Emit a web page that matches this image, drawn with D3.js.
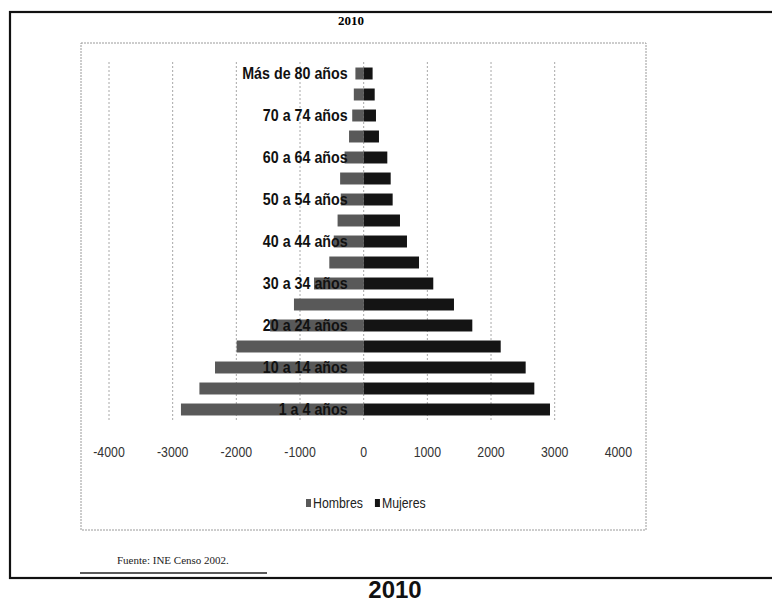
<!DOCTYPE html>
<html>
<head>
<meta charset="utf-8">
<script src="https://cdn.jsdelivr.net/npm/d3@7"></script>
<style>
  body { margin: 0; background: #fff; }
</style>
</head>
<body>
<div id="chart"></div>
<script>
// Grupos de edad (de abajo hacia arriba)
const grupos = [
  "1 a 4 años", "5 a 9 años", "10 a 14 años", "15 a 19 años", "20 a 24 años",
  "25 a 29 años", "30 a 34 años", "35 a 39 años", "40 a 44 años", "45 a 49 años",
  "50 a 54 años", "55 a 59 años", "60 a 64 años", "65 a 69 años", "70 a 74 años",
  "75 a 79 años", "Más de 80 años"
];

// Población por sexo
const hombres = [2870, 2580, 2335, 1995, 1470, 1095, 780, 540, 470, 410, 360, 370, 300, 230, 180, 155, 130];
const mujeres = [2926, 2680, 2544, 2152, 1706, 1418, 1093, 869, 680, 570, 455, 424, 371, 240, 193, 173, 140];

const ticksX = [-4000, -3000, -2000, -1000, 0, 1000, 2000, 3000, 4000];
const gridX = [-4000, -3000, -2000, -1000, 0, 1000, 2000, 3000];
const series = ["Hombres", "Mujeres"];
const colores = { Hombres: "#595959", Mujeres: "#141414" };

const width = 772;
const height = 604;
const fuenteSans = "'Liberation Sans', Arial, sans-serif";

const svg = d3.select("#chart")
  .append("svg")
  .attr("width", width)
  .attr("height", height)
  .style("background", "white");

// Marco exterior (se sale por la derecha)
svg.append("rect")
  .attr("x", 10).attr("y", 12)
  .attr("width", 800).attr("height", 566)
  .attr("fill", "none")
  .attr("stroke", "#111")
  .attr("stroke-width", 2.2);

// Título pequeño
svg.append("text")
  .attr("x", 351).attr("y", 25)
  .attr("text-anchor", "middle")
  .style("font-family", "'Liberation Serif', serif")
  .style("font-weight", "bold")
  .style("font-size", "13px")
  .text("2010");

// Marco del gráfico
svg.append("rect")
  .attr("x", 81).attr("y", 43)
  .attr("width", 565).attr("height", 487)
  .attr("fill", "none")
  .attr("stroke", "#9a9a9a")
  .attr("stroke-width", 1)
  .attr("stroke-dasharray", "2,1");

const x = d3.scaleLinear()
  .domain([-4000, 3000])
  .range([109, 554.7]);

const y = d3.scaleBand()
  .domain(grupos)
  .range([420, 63])
  .paddingInner(0.43)
  .paddingOuter(0.215);

// Líneas de división verticales
svg.append("g")
  .selectAll("line")
  .data(gridX)
  .join("line")
  .attr("x1", d => x(d)).attr("x2", d => x(d))
  .attr("y1", 62).attr("y2", 422)
  .attr("stroke", "#a8a8a8")
  .attr("stroke-width", 1)
  .attr("stroke-dasharray", "2,2");

const datos = grupos.map((g, i) => ({ grupo: g, Hombres: hombres[i], Mujeres: mujeres[i] }));

// Barras de hombres (a la izquierda)
svg.append("g")
  .selectAll("rect")
  .data(datos)
  .join("rect")
  .attr("x", d => x(-d.Hombres))
  .attr("y", d => y(d.grupo))
  .attr("width", d => x(0) - x(-d.Hombres))
  .attr("height", y.bandwidth())
  .attr("fill", colores.Hombres);

// Barras de mujeres (a la derecha)
svg.append("g")
  .selectAll("rect")
  .data(datos)
  .join("rect")
  .attr("x", x(0))
  .attr("y", d => y(d.grupo))
  .attr("width", d => x(d.Mujeres) - x(0))
  .attr("height", y.bandwidth())
  .attr("fill", colores.Mujeres);

// Etiquetas de grupos (una sí, una no), letra estrecha
const escalaEtiq = 0.84;
const ejeY = svg.append("g")
  .attr("transform", `translate(${x(0)},0)`)
  .call(d3.axisLeft(y)
    .tickValues(grupos.filter((g, i) => i % 2 === 0))
    .tickSize(0)
    .tickPadding(16));
ejeY.select(".domain").remove();
ejeY.selectAll("text")
  .attr("x", -16 / escalaEtiq)
  .attr("transform", `scale(${escalaEtiq},1)`)
  .style("font-family", fuenteSans)
  .style("font-weight", "bold")
  .style("font-size", "17px")
  .attr("fill", "#111");

// Eje X
const escalaNum = 0.88;
const ejeX = svg.append("g")
  .attr("transform", "translate(0,444)")
  .call(d3.axisBottom(x)
    .tickValues(ticksX)
    .tickSize(0)
    .tickPadding(3)
    .tickFormat(d => String(d)));
ejeX.select(".domain").remove();
ejeX.selectAll("text")
  .attr("transform", `scale(${escalaNum},1)`)
  .style("font-family", fuenteSans)
  .style("font-size", "14px")
  .attr("fill", "#333");
// compensar la escala horizontal en cada marca
ejeX.selectAll(".tick")
  .attr("transform", d => `translate(${x(d)},0)`);

// Leyenda
const leyenda = svg.append("g");
let lx = 306;
series.forEach(s => {
  leyenda.append("rect")
    .attr("x", lx).attr("y", 499)
    .attr("width", 5).attr("height", 8)
    .attr("fill", colores[s]);
  const t = leyenda.append("text")
    .attr("x", (lx + 7) / escalaNum).attr("y", 508)
    .attr("transform", `scale(${escalaNum},1)`)
    .style("font-family", fuenteSans)
    .style("font-size", "14px")
    .attr("fill", "#222")
    .text(s);
  lx += 7 + t.node().getComputedTextLength() * escalaNum + 12;
});

// Fuente
svg.append("text")
  .attr("x", 117).attr("y", 564)
  .style("font-family", "'Liberation Serif', serif")
  .style("font-size", "11px")
  .attr("fill", "#222")
  .text("Fuente: INE Censo 2002.");

svg.append("line")
  .attr("x1", 80).attr("x2", 267)
  .attr("y1", 573).attr("y2", 573)
  .attr("stroke", "#222")
  .attr("stroke-width", 1.5);

// Año grande abajo
svg.append("text")
  .attr("x", 395).attr("y", 598)
  .attr("text-anchor", "middle")
  .style("font-family", fuenteSans)
  .style("font-weight", "bold")
  .style("font-size", "24px")
  .attr("fill", "#111")
  .text("2010");
</script>
</body>
</html>
